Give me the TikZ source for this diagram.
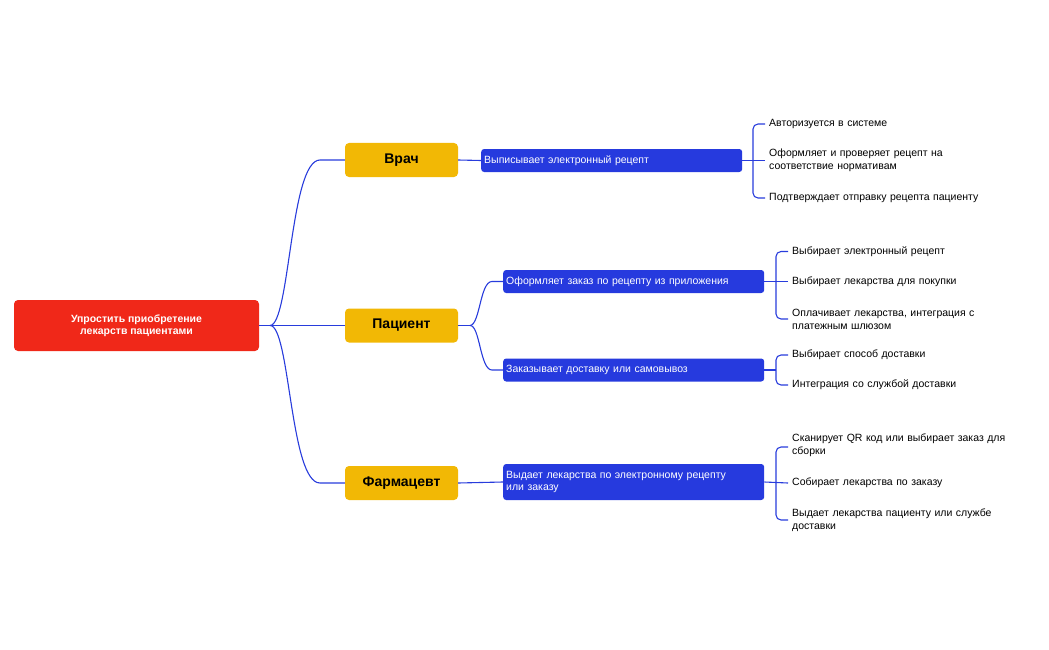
\documentclass[tikz,border=0pt]{standalone}
\usepackage{fontspec}
\setmainfont{Liberation Sans}
\begin{document}
\begin{tikzpicture}[x=1pt,y=-1pt,
  ln/.style={draw=blue!70!black!80, line width=1.1pt, color={rgb,255:red,40;green,60;blue,220}},
  root/.style={fill={rgb,255:red,240;green,40;blue,25}, rounded corners=4pt, text=white, font=\fontsize{10.5}{12}\selectfont\bfseries, align=center, minimum width=245pt, minimum height=51pt, inner sep=0pt},
  role/.style={fill={rgb,255:red,242;green,184;blue,5}, rounded corners=4pt, font=\fontsize{14}{16}\selectfont\bfseries, minimum width=113pt, minimum height=34pt, inner sep=0pt},
  act/.style={fill={rgb,255:red,38;green,58;blue,222}, rounded corners=3pt, text=white, font=\fontsize{10.5}{12}\selectfont, align=left, minimum width=261pt, anchor=west, inner sep=3pt, text width=255pt},
  leaf/.style={font=\fontsize{10.5}{13}\selectfont, align=left, anchor=west, inner sep=0pt, text width=260pt}]
\useasboundingbox (0,0) rectangle (1049,650);
\tikzset{lc/.style={line width=1.1pt, draw={rgb,255:red,40;green,60;blue,220}}}
\node[root] (r) at (136.5,325.5) {Упростить приобретение\\лекарств пациентами};
\node[role] (v) at (401.5,160) {Врач};
\node[role] (p) at (401.5,325.5) {Пациент};
\node[role] (f) at (401.5,483) {Фармацевт};
\coordinate (b0) at (270,325.5);
\draw[lc] (r.east) -- (b0);
\draw[lc] (b0) .. controls (290,325) and (290,160) .. (320,160) -- (v.west);
\draw[lc] (b0) -- (p.west);
\draw[lc] (b0) .. controls (290,325) and (290,483) .. (320,483) -- (f.west);
\node[act, minimum height=23pt] (a1) at (481,160.5) {Выписывает электронный рецепт};
\node[act, minimum height=23pt] (a2) at (503,281.5) {Оформляет заказ по рецепту из приложения};
\node[act, minimum height=23pt] (a3) at (503,370) {Заказывает доставку или самовывоз};
\node[act, minimum height=36pt] (a4) at (503,482) {Выдает лекарства по электронному рецепту\\или заказу};
\draw[lc] (v.east) -- (a1.west);
\coordinate (b1) at (470,325.5);
\draw[lc] (p.east) -- (b1);
\draw[lc] (b1) .. controls (480,325) and (480,281.5) .. (492,281.5) -- (a2.west);
\draw[lc] (b1) .. controls (480,325) and (480,370) .. (492,370) -- (a3.west);
\draw[lc] (f.east) -- (a4.west);
% leaves
\node[leaf] (l11) at (769,124) {Авторизуется в системе};
\node[leaf] (l12) at (769,160.5) {Оформляет и проверяет рецепт на\\соответствие нормативам};
\node[leaf] (l13) at (769,198) {Подтверждает отправку рецепта пациенту};
\node[leaf] (l21) at (792,251.5) {Выбирает электронный рецепт};
\node[leaf] (l22) at (792,281.5) {Выбирает лекарства для покупки};
\node[leaf] (l23) at (792,319) {Оплачивает лекарства, интеграция с\\платежным шлюзом};
\node[leaf] (l31) at (792,355) {Выбирает способ доставки};
\node[leaf] (l32) at (792,385) {Интеграция со службой доставки};
\node[leaf] (l41) at (792,445.5) {Сканирует QR код или выбирает заказ для\\сборки};
\node[leaf] (l42) at (792,483) {Собирает лекарства по заказу};
\node[leaf] (l43) at (792,520) {Выдает лекарства пациенту или службе\\доставки};
% brackets
\draw[lc, rounded corners=5pt] (765,124) -- (753,124) -- (753,198) -- (765,198);
\draw[lc] (a1.east) -- (765,160.5);
\draw[lc, rounded corners=5pt] (788,251.5) -- (776,251.5) -- (776,319) -- (788,319);
\draw[lc] (a2.east) -- (788,281.5);
\draw[lc, rounded corners=5pt] (788,355) -- (776,355) -- (776,385) -- (788,385);
\draw[lc] (a3.east) -- (776,370);
\draw[lc, rounded corners=5pt] (788,447) -- (776,447) -- (776,520) -- (788,520);
\draw[lc] (a4.east) -- (788,483);
\end{tikzpicture}
\end{document}
